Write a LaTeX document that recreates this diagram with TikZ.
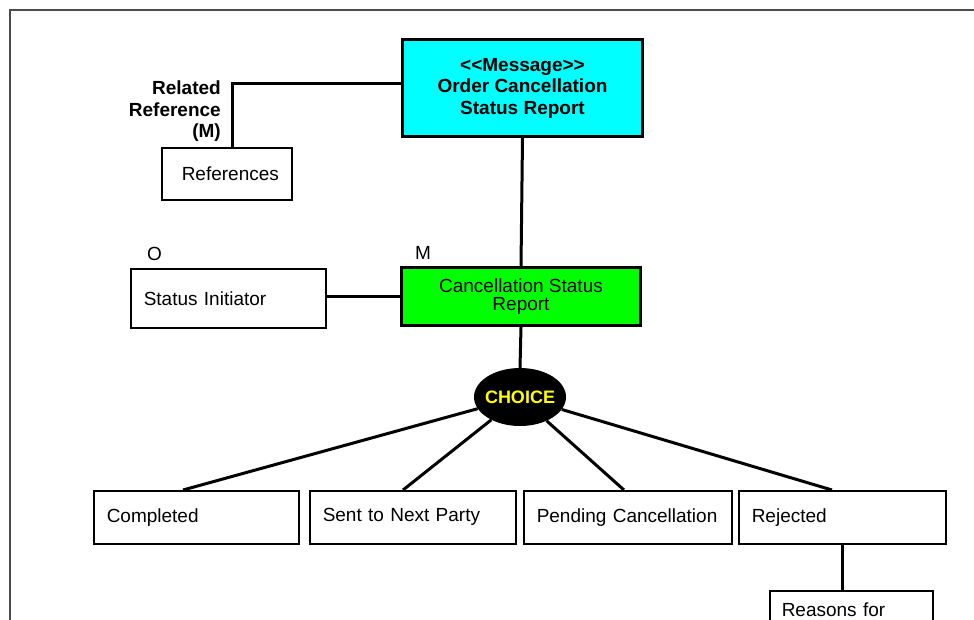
\documentclass[tikz,border=0pt]{standalone}
\usepackage{fontspec}
\setmainfont{Liberation Sans}
\usetikzlibrary{shapes.geometric}
\definecolor{msgcyan}{RGB}{0,255,255}
\definecolor{csrgreen}{RGB}{0,255,0}
\definecolor{chyellow}{RGB}{255,255,0}
\begin{document}
\begin{tikzpicture}[x=1pt,y=-1pt,
  txt/.style={font=\fontsize{19}{18.5}\selectfont},
  btxt/.style={font=\fontsize{19}{21.5}\selectfont\bfseries},
  wbox/.style={draw, line width=1.5pt, fill=white, txt, align=left, inner xsep=13pt, inner ysep=0pt, anchor=north west},
  mbox/.style={draw, line width=3pt, align=center, inner sep=0pt, anchor=north west},
  conn/.style={line width=3pt},
]
\useasboundingbox (0,0) rectangle (974,619);
\clip (0,0) rectangle (974,619);
\fill[white] (0,0) rectangle (974,619);
% frame
\draw[line width=1.5pt, black!70] (10,700) -- (10,10) -- (1000,10);

% main boxes
\node[mbox, fill=msgcyan, btxt, minimum width=240, minimum height=97] (msg) at (401,38)
  {{<}{<}Message{>}{>}\\Order Cancellation\\Status Report};
\node[mbox, fill=csrgreen, txt, minimum width=239, minimum height=58] (csr) at (400,266)
  {Cancellation Status\\Report};

% white boxes
\node[wbox, text width=90, minimum height=52, inner xsep=20pt] (refs) at (161,147) {References};
\node[wbox, text width=169, minimum height=59] (init) at (130,268) {Status Initiator};
\node[wbox, text width=179, minimum height=53] (comp) at (93,490) {Completed};
\node[wbox, text width=180, minimum height=53] (sent) at (309,490) {Sent to Next Party};
\node[wbox, text width=182, minimum height=53] (pend) at (523,490) {Pending Cancellation};
\node[wbox, text width=181, minimum height=53] (rej) at (738,490) {Rejected};
\node[wbox, text width=139, inner xsep=12pt, inner ysep=6pt, minimum height=60] (reas) at (769,590) {Reasons for\\Rejected Status};

% choice
\node[ellipse, fill=black, minimum width=92, minimum height=58, inner sep=0pt] (choice) at (520,397) {};
\node[text=chyellow, font=\fontsize{18}{18}\selectfont\bfseries, inner sep=0pt] (choicet) at (choice.center) {CHOICE};

% labels
\node[btxt, align=right, anchor=north east, inner sep=0pt] (rrlab) at (221,81) {Related\\Reference\\(M)};
\node[txt, anchor=base west, inner sep=0pt] (olab) at (147,260) {O};
\node[txt, anchor=base west, inner sep=0pt] (mlab) at (415,259) {M};

% connectors
\coordinate (rc) at (232,83);
\draw[conn] (msg.west |- rc) -- (rc) -- (rc |- refs.north);
\draw[conn] (msg.south) -- (csr.north);
\draw[conn] (init.east |- 0,296) -- (csr.west |- 0,296);
\draw[conn] (csr.south) -- (choice.north);
\coordinate (cA) at (183,490);
\coordinate (cB) at (403,490);
\coordinate (cC) at (624,490);
\coordinate (cD) at (832,490);
\draw[conn] (choice) -- (cA);
\draw[conn] (choice) -- (cB);
\draw[conn] (choice) -- (cC);
\draw[conn] (choice) -- (cD);
\coordinate (rv) at (842,543);
\draw[conn] (rv) -- (rv |- reas.north);
\end{tikzpicture}
\end{document}
